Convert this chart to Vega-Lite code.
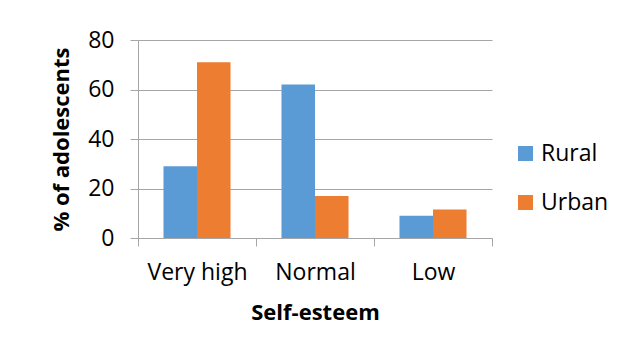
{
  "$schema": "https://vega.github.io/schema/vega-lite/v6.json",
  "width": 354,
  "height": 198,
  "autosize": {"type": "none"},
  "padding": {"left": 138, "top": 40, "right": 143, "bottom": 108},
  "background": "white",
  "config": {
    "font": "Open Sans",
    "view": {"stroke": null},
    "axis": {
      "labelFont": "Open Sans",
      "labelFontSize": 23,
      "labelColor": "#000000",
      "titleFont": "Open Sans",
      "titleFontSize": 22,
      "titleFontWeight": "bold",
      "titleColor": "#000000",
      "domainColor": "#a6a6a6",
      "tickColor": "#a6a6a6",
      "gridColor": "#a6a6a6",
      "tickSize": 8
    },
    "legend": {
      "labelFont": "Open Sans",
      "labelFontSize": 23,
      "labelColor": "#000000"
    }
  },
  "data": {
    "values": [
      {"level": "Very high", "area": "Rural", "pct": 29},
      {"level": "Very high", "area": "Urban", "pct": 71},
      {"level": "Normal", "area": "Rural", "pct": 62},
      {"level": "Normal", "area": "Urban", "pct": 17},
      {"level": "Low", "area": "Rural", "pct": 9},
      {"level": "Low", "area": "Urban", "pct": 11.5}
    ]
  },
  "mark": {"type": "bar"},
  "encoding": {
    "x": {
      "field": "level",
      "type": "nominal",
      "sort": ["Very high", "Normal", "Low"],
      "scale": {"paddingInner": 0, "paddingOuter": 0},
      "axis": {
        "title": "Self-esteem",
        "labelAngle": 0,
        "tickBand": "extent",
        "labelPadding": 15,
        "titlePadding": 18,
        "grid": false
      }
    },
    "xOffset": {
      "field": "area",
      "type": "nominal",
      "scale": {"paddingInner": 0, "paddingOuter": 0.76}
    },
    "y": {
      "field": "pct",
      "type": "quantitative",
      "scale": {"domain": [0, 80]},
      "axis": {
        "title": "% of adolescents",
        "values": [0, 20, 40, 60, 80],
        "grid": true,
        "labelPadding": 16,
        "titlePadding": 14
      }
    },
    "color": {
      "field": "area",
      "type": "nominal",
      "scale": {"domain": ["Rural", "Urban"], "range": ["#5b9bd5", "#ed7d31"]},
      "legend": {
        "title": null,
        "orient": "none",
        "legendX": 376,
        "legendY": 102,
        "symbolType": "square",
        "symbolSize": 225,
        "symbolStrokeWidth": 0,
        "labelOffset": 4,
        "rowPadding": 25
      }
    }
  }
}
